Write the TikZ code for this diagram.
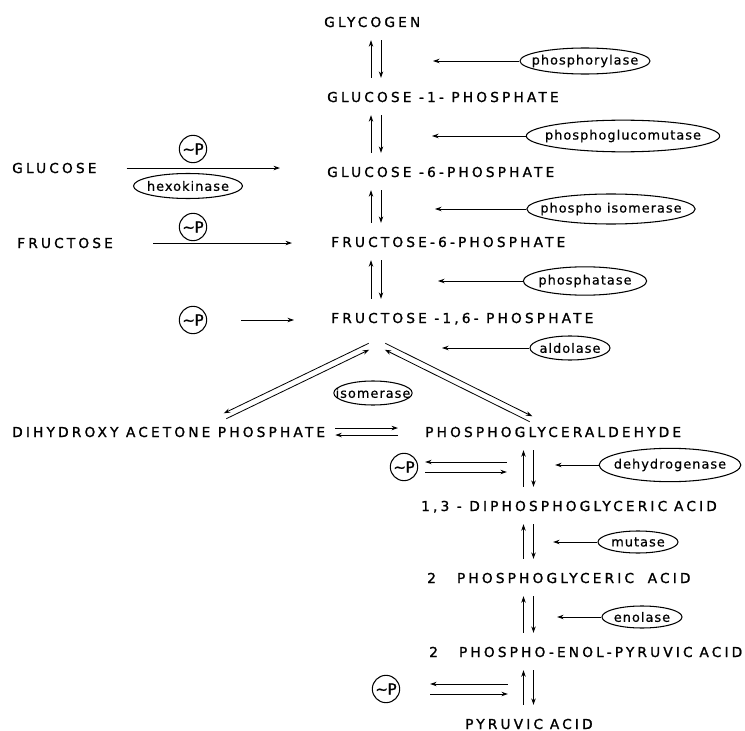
\documentclass[tikz,border=0pt]{standalone}
\usepackage{fontspec}
\usetikzlibrary{arrows.meta,shapes.geometric,calc,positioning}
\newfontfamily\cpdfont[LetterSpace=23,FakeBold=1.3]{DejaVu Sans}
\newfontfamily\enzfont[LetterSpace=8,FakeBold=0.6]{DejaVu Sans}
\newfontfamily\symfont[FakeBold=1]{DejaVu Sans}
\tikzset{
  cpd/.style={font={\cpdfont\fontsize{11.7pt}{13pt}\selectfont}, inner sep=0pt,
    anchor=base west, text height=8.5pt, text depth=0pt},
  enz/.style n args={2}{draw, ellipse, line width=0.9pt, inner sep=-20pt,
    minimum width=#1, minimum height=#2, font={\enzfont\fontsize{11pt}{13pt}\selectfont}},
  phos/.style={draw, circle, line width=0.9pt, minimum size=0.82cm, inner sep=0pt,
    font={\symfont\fontsize{13pt}{14pt}\selectfont}},
  fw/.style={-{Stealth[length=5.5pt,width=3.8pt]}, line width=0.7pt}
}
\begin{document}
\begin{tikzpicture}[x=0.03cm, y=-0.03cm]
  \useasboundingbox (0,0) rectangle (745,731);
  \coordinate (colA) at (376,0);
  \coordinate (colB) at (528.5,0);

  \node[cpd] (gly) at (324,27) {GLYCOGEN};
  \node[cpd] (gp1) at (327,102) {GLUCOSE -1- PHOSPHATE};
  \node[cpd] (gp6) at (327,177) {GLUCOSE -6-PHOSPHATE};
  \node[cpd] (fp6) at (331,247) {FRUCTOSE-6-PHOSPHATE};
  \node[cpd] (fdp) at (331,323) {FRUCTOSE -1,6- PHOSPHATE};
  \node[cpd] (glc) at (12,173) {GLUCOSE};
  \node[cpd] (fru) at (17,248) {FRUCTOSE};
  \node[cpd] (dhap) at (12,437) {DIHYDROXY ACETONE PHOSPHATE};
  \node[cpd] (pgal) at (425,437) {PHOSPHOGLYCERALDEHYDE};
  \node[cpd] (dpg) at (421,511) {1,3 - DIPHOSPHOGLYCERIC\enspace ACID};
  \node[cpd] (pg) at (427,583) {2\hspace{18pt}PHOSPHOGLYCERIC\quad ACID};
  \node[cpd] (pep) at (429,657) {2\hspace{18pt}PHOSPHO-ENOL-PYRUVIC\enspace ACID};
  \node[cpd] (pyr) at (465,729) {PYRUVIC\enspace ACID};

  \node[enz={3.9cm}{0.78cm}] (phl) at (585,61) {phosphorylase};
  \node[enz={5.8cm}{0.95cm}] (pgm) at (623,136) {phosphoglucomutase};
  \node[enz={5.05cm}{0.9cm}] (phi) at (611,209) {phospho isomerase};
  \node[enz={3.7cm}{0.85cm}] (pta) at (585,281) {phosphatase};
  \node[enz={2.4cm}{0.72cm}] (ald) at (570,348) {aldolase};
  \node[enz={3.27cm}{0.75cm}] (hxk) at (188,186) {hexokinase};
  \node[enz={2.35cm}{0.72cm}] (iso) at (373,393) {isomerase};
  \node[enz={4.25cm}{1.0cm}] (dhg) at (670,465) {dehydrogenase};
  \node[enz={2.4cm}{0.66cm}] (mut) at (638,542) {mutase};
  \node[enz={2.4cm}{0.66cm}] (eno) at (642,617) {enolase};

  \node[phos] (p1) at (193,149) {∼\kern-0.5pt P};
  \node[phos] (p2) at (193,227) {∼\kern-0.5pt P};
  \node[phos] (p3) at (193,320) {∼\kern-0.5pt P};
  \node[phos] (p4) at (404,467) {∼\kern-0.5pt P};
  \node[phos] (p5) at (386,689) {∼\kern-0.5pt P};

  \foreach \a/\b in {gly/gp1, gp1/gp6, gp6/fp6, fp6/fdp} {
    \draw[fw] ($(colA |- \b.north)+(-5,-14)$) -- ($(colA |- \a.south)+(-5,13)$);
    \draw[fw] ($(colA |- \a.south)+(5,13)$) -- ($(colA |- \b.north)+(5,-14)$);
  }
  \foreach \a/\b in {pgal/dpg, dpg/pg, pg/pep, pep/pyr} {
    \draw[fw] ($(colB |- \b.north)+(-5,-14)$) -- ($(colB |- \a.south)+(-5,13)$);
    \draw[fw] ($(colB |- \a.south)+(5,13)$) -- ($(colB |- \b.north)+(5,-14)$);
  }

  \foreach \e/\s in {phl/1.71, pgm/1.68, phi/1.77, pta/1.86, ald/1.98}
    \draw[fw, shorten >=\s cm] (\e) -- (\e -| colA);
  \foreach \e/\s in {dhg/0.8, mut/0.74, eno/0.86}
    \draw[fw, shorten >=\s cm] (\e) -- (\e -| colB);

  \draw[fw, shorten <=0.9cm, shorten >=1.41cm] (glc.east) -- (glc.east -| gp6.west);
  \draw[fw, shorten <=1.2cm, shorten >=1.17cm] (fru.east) -- (fru.east -| fp6.west);
  \draw[fw, shorten <=1.02cm, shorten >=1.11cm] (p3) -- (p3 -| fdp.west);

  \coordinate (fkL) at (370,346);
  \coordinate (dk) at (225,416);
  \coordinate (fkR) at (384,346);
  \coordinate (pk) at (531,419);
  \draw[fw, transform canvas={shift={(-0.039cm,0.081cm)}}] (fkL) -- (dk);
  \draw[fw, shorten >=2pt, transform canvas={shift={(0.039cm,-0.081cm)}}] (dk) -- (fkL);
  \draw[fw, transform canvas={shift={(0.039cm,0.081cm)}}] (fkR) -- (pk);
  \draw[fw, shorten >=2pt, transform canvas={shift={(-0.039cm,-0.081cm)}}] (pk) -- (fkR);

  \draw[fw, shorten <=0.3cm, shorten >=0.81cm, transform canvas={yshift=0.12cm}] (dhap) -- (pgal);
  \draw[fw, shorten <=0.81cm, shorten >=0.3cm, transform canvas={yshift=-0.09cm}] (pgal) -- (dhap);

  \draw[fw, shorten <=0.65cm, shorten >=0.21cm, transform canvas={yshift=0.15cm}] (p4 -| colB) -- (p4);
  \draw[fw, shorten <=0.21cm, shorten >=0.65cm, transform canvas={yshift=-0.15cm}] (p4) -- (p4 -| colB);
  \draw[fw, shorten <=0.62cm, shorten >=0.9cm, transform canvas={yshift=0.15cm}] (p5 -| colB) -- (p5);
  \draw[fw, shorten <=0.9cm, shorten >=0.62cm, transform canvas={yshift=-0.15cm}] (p5) -- (p5 -| colB);
\end{tikzpicture}
\end{document}
